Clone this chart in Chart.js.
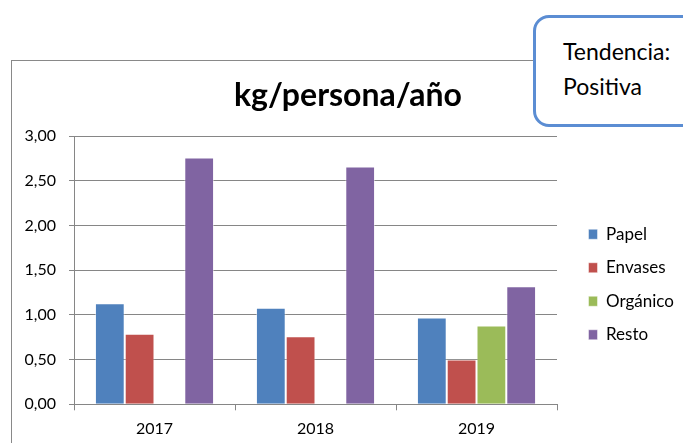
<!DOCTYPE html>
<html>
<head>
<meta charset="utf-8">
<script src="https://cdn.jsdelivr.net/npm/chart.js@4/dist/chart.umd.min.js"></script>
<style>
  html, body { margin: 0; padding: 0; background: #fff; overflow: hidden; }
  body { width: 683px; height: 443px; position: relative; font-family: Lato, sans-serif; }
  #frame { position: absolute; left: 11px; top: 60px; width: 678px; height: 400px; border: 1px solid #898989; }
  #callout { position: absolute; left: 533px; top: 15px; width: 180px; height: 112px; border: 3px solid #5b8dd3;
             border-radius: 16px; background: #fff; padding: 16px 0 0 27px; box-sizing: border-box;
             font-size: 23px; line-height: 35px; color: #000; }
</style>
</head>
<body>
<div id="frame"><canvas id="chart"></canvas></div>
<div id="callout">Tendencia:<br>Positiva</div>
<script>
const years = ['2017', '2018', '2019'];
const papel = [1.13, 1.08, 0.97];
const envases = [0.79, 0.76, 0.50];
const organico = [null, null, 0.88];
const resto = [2.76, 2.66, 1.32];
const yTicks = [0, 0.5, 1, 1.5, 2, 2.5, 3];

Chart.defaults.font.family = 'Lato';
Chart.defaults.color = '#000';

const gridGray = '#868686';
const legendPad = 16.5;
const legendFont = 17;
const legendBox = 9;

// work out legend width so the plot ends where the reference does
const m = document.createElement('canvas').getContext('2d');
m.font = legendFont + 'px Lato';
const labelW = Math.max(...['Papel', 'Envases', 'Orgánico', 'Resto'].map(t => m.measureText(t).width));
const legendW = legendPad + legendBox + legendFont / 2 + labelW + 10;
const gapRight = 15;
const padRight = 678 - 545 - gapRight - legendW;

const ds = (label, data, color) => ({
    label, data, backgroundColor: color,
    borderColor: 'rgba(255,255,255,0.45)', borderWidth: 1,
    categoryPercentage: 0.74, barPercentage: 1.0
});

new Chart(document.getElementById('chart'), {
    type: 'bar',
    data: {
        labels: years,
        datasets: [
            ds('Papel', papel, '#4f81bd'),
            ds('Envases', envases, '#c0504d'),
            ds('Orgánico', organico, '#9bbb59'),
            ds('Resto', resto, '#8064a2')
        ]
    },
    options: {
        responsive: true,
        maintainAspectRatio: false,
        animation: false,
        layout: { padding: { left: 0, right: padRight, top: 0, bottom: 0 } },
        scales: {
            x: {
                grid: { offset: true, drawOnChartArea: false, tickLength: 6, color: gridGray },
                border: { color: gridGray },
                ticks: { font: { size: 16 }, padding: 9 },
                afterFit: s => { s.height = 400 - 343.3; }
            },
            y: {
                min: 0, max: 3,
                afterBuildTicks: s => { s.ticks = yTicks.map(v => ({ value: v })); },
                grid: { color: gridGray, tickLength: 5 },
                border: { color: gridGray },
                ticks: {
                    font: { size: 16 }, padding: 13,
                    callback: v => v.toFixed(2).replace('.', ',')
                },
                afterFit: s => { s.width = 62; }
            },
            yR: {
                position: 'right', display: true,
                ticks: { display: false }, grid: { display: false }, border: { display: false },
                afterFit: s => { s.width = gapRight; }
            }
        },
        plugins: {
            title: {
                display: true, text: 'kg/persona/año', color: '#000',
                font: { size: 32, weight: 'bold' },
                padding: { top: 15, bottom: 21.6 }
            },
            legend: {
                position: 'right', align: 'center',
                title: { display: true, text: '', font: { size: 10 }, padding: { top: 35, bottom: 0 } },
                labels: { boxWidth: legendBox, boxHeight: 10, padding: legendPad, font: { size: legendFont } }
            },
            tooltip: { enabled: false }
        }
    }
});
</script>
</body>
</html>
